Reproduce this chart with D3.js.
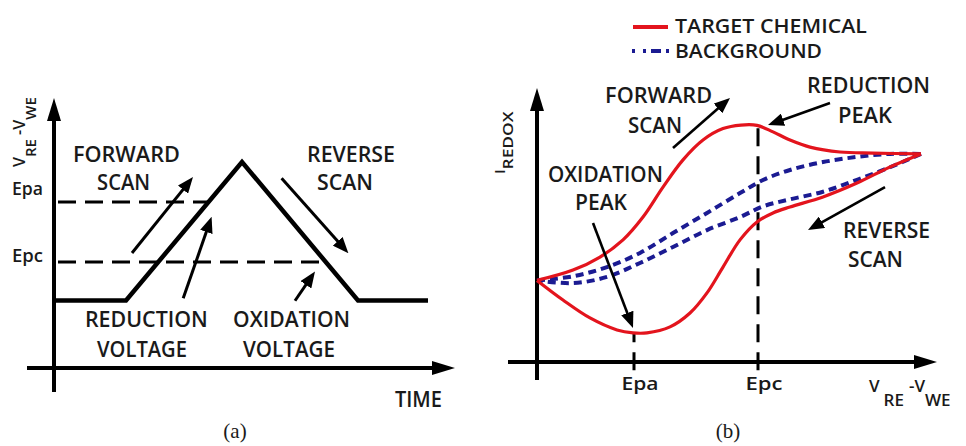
<!DOCTYPE html>
<html><head><meta charset="utf-8">
<script src="https://cdn.jsdelivr.net/npm/d3@7"></script>
<style>
body{margin:0;background:#fff;}
svg text{font-family:'Open Sans',sans-serif;fill:#1a1a1a;font-weight:600;}
</style></head>
<body><svg id="c" width="966" height="446"></svg>
<script>
// ---------- Panel (a): applied potential waveform ----------
const waveTime = [0, 18, 47, 76, 93.5];
const waveVolt = [25, 25, 76.3, 25, 25];
const leftTickNames = ["Epa", "Epc"];
const leftTickValues = [61.5, 39.3];
const leftNotes = [
  {text:"FORWARD", t:18.1, v:76.3, w:107},
  {text:"SCAN", t:17.4, v:65.9, w:53},
  {text:"REVERSE", t:74.25, v:76.3, w:88},
  {text:"SCAN", t:72.75, v:65.9, w:56},
  {text:"REDUCTION", t:23.1, v:15.2, w:123},
  {text:"VOLTAGE", t:22, v:4.1, w:90},
  {text:"OXIDATION", t:59.4, v:15.2, w:117},
  {text:"VOLTAGE", t:58.75, v:4.1, w:92},
  {text:"TIME", t:91.1, v:-14.4, w:47}
];
const leftArrows = [
  {t1:19.5, v1:42.6, t2:34.75, v2:70.7},
  {t1:32.3, v1:25.8, t2:39.4, v2:56.0},
  {t1:56.9, v1:70.3, t2:73.6, v2:42.5},
  {t1:60.25, v1:24.9, t2:65.25, v2:35.7}
];

// ---------- Panel (b): cyclic voltammogram ----------
const targetFwdV = [0, 9, 15.75, 21.5, 26.5, 31.5, 36.5, 41.5, 46.5, 51, 55, 59, 63.25, 68.25, 75.75, 84, 96];
const targetFwdI = [30, 33.8, 38.6, 44.9, 53.3, 64.3, 74.3, 81.6, 85.8, 87.1, 87, 84.6, 81.6, 79, 77.2, 76.8, 76.5];
const targetRevV = [96, 88.25, 80, 71.5, 63.25, 59, 55, 50.75, 46.5, 42.5, 38.25, 33.25, 27.5, 24, 20, 13.25, 6.5, 0];
const targetRevI = [76.5, 71.7, 65.8, 60.7, 57, 54.8, 51.5, 44.9, 34.9, 25.4, 18, 12.9, 10.7, 10.7, 11.8, 16.2, 22.8, 30];
const bgFwdV = [0, 9, 17.5, 25.75, 34, 42.5, 50.75, 56.5, 63.25, 71.5, 80, 88.25, 96];
const bgFwdI = [30, 31.5, 34.9, 40.1, 47.4, 54.8, 62.1, 66.9, 70.6, 73.5, 75.4, 76.5, 76.5];
const bgRevV = [96, 88.25, 80, 71.5, 63.25, 56.5, 50.75, 42.5, 34, 25.75, 17.5, 9, 0];
const bgRevI = [76.5, 71.6, 67, 62.6, 59.8, 57.2, 53.3, 48.5, 42.3, 36.4, 31.3, 29, 30];
const rightTickNames = ["Epa", "Epc"];
const rightTickValues = [24.25, 55.25];
const peakCurrents = [10.7, 87.0];
const legendLabels = ["TARGET CHEMICAL", "BACKGROUND"];
const rightNotes = [
  {text:"FORWARD", x:30.4, y:95.2, w:107},
  {text:"SCAN", x:29.5, y:84.2, w:54},
  {text:"REDUCTION", x:82.9, y:98.9, w:123},
  {text:"PEAK", x:82, y:87.9, w:54},
  {text:"OXIDATION", x:17.1, y:66.2, w:115},
  {text:"PEAK", x:16, y:55.9, w:52},
  {text:"REVERSE", x:87.4, y:45.6, w:87},
  {text:"SCAN", x:84.6, y:34.9, w:55}
];
const rightArrows = [
  {x1:34, y1:78.7, x2:48.25, y2:97.1},
  {x1:73.25, y1:95.2, x2:57.75, y2:87.1},
  {x1:14, y1:51.1, x2:24, y2:12.5},
  {x1:87, y1:64.3, x2:67.75, y2:48.5}
];

const RED = "#e3141d", BLUE = "#1b1b92";
const svg = d3.select("#c");
const defs = svg.append("defs");
function marker(id, len, wid, shorten){
  defs.append("marker").attr("id", id).attr("markerUnits","userSpaceOnUse")
    .attr("markerWidth", len).attr("markerHeight", wid)
    .attr("refX", len - shorten).attr("refY", wid/2).attr("orient","auto")
    .append("path").attr("d", `M0,0L${len},${wid/2}L0,${wid}Z`).attr("fill","#000");
}
marker("axisHead", 23, 14, 10);
marker("noteHead", 16, 13, 8);
function arrow(g, x1, y1, x2, y2, w, id, s){
  const dx = x2 - x1, dy = y2 - y1, L = Math.hypot(dx, dy);
  g.append("line").attr("x1", x1).attr("y1", y1)
    .attr("x2", x2 - dx/L*s).attr("y2", y2 - dy/L*s)
    .attr("stroke","#000").attr("stroke-width", w)
    .attr("marker-end", `url(#${id})`);
}
function fitText(g, text, x, y, w, size){
  return g.append("text").attr("x", x).attr("y", y).attr("text-anchor","middle")
    .attr("font-size", size).attr("textLength", w).attr("lengthAdjust","spacingAndGlyphs").text(text);
}

// ===== Panel (a) =====
const xL = d3.scaleLinear([0, 100], [54, 454]);
const yL = d3.scaleLinear([0, 100], [368, 98]);
const gA = svg.append("g");
arrow(gA, xL(-6.75), yL(0), xL(100.25), yL(0), 4, "axisHead", 10);
arrow(gA, xL(0), yL(-8.9), xL(0), yL(100), 4, "axisHead", 10);
const wave = waveTime.map((t, i) => ({t, v: waveVolt[i]}));
function crossTime(v, seg){ const a = wave[seg], b = wave[seg+1]; return a.t + (v - a.v)/(b.v - a.v)*(b.t - a.t); }
gA.append("line").attr("x1", xL(1)).attr("x2", xL(crossTime(leftTickValues[0], 1)))
  .attr("y1", yL(leftTickValues[0])).attr("y2", yL(leftTickValues[0]))
  .attr("stroke","#000").attr("stroke-width", 3).attr("stroke-dasharray","18,9");
gA.append("line").attr("x1", xL(1)).attr("x2", xL(crossTime(leftTickValues[1], 2)))
  .attr("y1", yL(leftTickValues[1])).attr("y2", yL(leftTickValues[1]))
  .attr("stroke","#000").attr("stroke-width", 3).attr("stroke-dasharray","18,9");
gA.append("path").datum(wave)
  .attr("d", d3.line().x(d => xL(d.t)).y(d => yL(d.v)))
  .attr("fill","none").attr("stroke","#000").attr("stroke-width", 4.5).attr("stroke-linejoin","miter");
const leftDy = [-7, 0];
leftTickNames.forEach((n, i) => {
  gA.append("text").attr("x", xL(0) - 11).attr("y", yL(leftTickValues[i]) + leftDy[i])
    .attr("text-anchor","end").attr("font-size", 18).attr("textLength", 31)
    .attr("lengthAdjust","spacingAndGlyphs").text(n);
});
const yla = gA.append("text").attr("transform", `translate(${25},${167}) rotate(-90)`).attr("font-size", 16);
yla.append("tspan").text("V");
yla.append("tspan").attr("dy", 11).attr("font-size", 15).text("RE");
yla.append("tspan").attr("dy", -11).text(" -V");
yla.append("tspan").attr("dy", 11).attr("font-size", 15).text("WE");
leftNotes.forEach(n => fitText(gA, n.text, xL(n.t), yL(n.v), n.w, 22));
leftArrows.forEach(a => arrow(gA, xL(a.t1), yL(a.v1), xL(a.t2), yL(a.v2), 3, "noteHead", 8));
gA.append("text").attr("x", 235).attr("y", 438).attr("text-anchor","middle")
  .style("font-family","'Liberation Serif',serif").style("font-weight","normal").attr("font-size", 21).text("(a)");

// ===== Panel (b) =====
const xR = d3.scaleLinear([0, 100], [537, 937]);
const yR = d3.scaleLinear([0, 100], [362, 90]);
const gB = svg.append("g");
rightTickValues.forEach((v, i) => {
  gB.append("line").attr("x1", xR(v)).attr("x2", xR(v))
    .attr("y1", yR(-3)).attr("y2", yR(peakCurrents[i]))
    .attr("stroke","#000").attr("stroke-width", 3).attr("stroke-dasharray","18,10");
});
arrow(gB, xR(-7.25), yR(0), xR(100), yR(0), 4, "axisHead", 10);
arrow(gB, xR(0), yR(-6.6), xR(0), yR(100.7), 4, "axisHead", 10);
rightTickNames.forEach((n, i) => {
  gB.append("text").attr("x", xR(rightTickValues[i]) + 6).attr("y", 390).attr("text-anchor","middle")
    .attr("font-size", 18).attr("textLength", 37).attr("lengthAdjust","spacingAndGlyphs").text(n);
});
const cv = d3.line().x(d => xR(d[0])).y(d => yR(d[1])).curve(d3.curveCatmullRom.alpha(0.5));
const zipP = (a, b) => a.map((v, i) => [v, b[i]]);
gB.append("path").attr("d", cv(zipP(bgFwdV, bgFwdI))).attr("fill","none")
  .attr("stroke", BLUE).attr("stroke-width", 4).attr("stroke-dasharray","8,5");
gB.append("path").attr("d", cv(zipP(bgRevV, bgRevI))).attr("fill","none")
  .attr("stroke", BLUE).attr("stroke-width", 4).attr("stroke-dasharray","8,5");
gB.append("path").attr("d", cv(zipP(targetFwdV, targetFwdI))).attr("fill","none")
  .attr("stroke", RED).attr("stroke-width", 3.2);
gB.append("path").attr("d", cv(zipP(targetRevV, targetRevI))).attr("fill","none")
  .attr("stroke", RED).attr("stroke-width", 3.2);
const xlb = gB.append("text").attr("x", 869).attr("y", 392).attr("font-size", 17);
xlb.append("tspan").text("V");
xlb.append("tspan").attr("dx", 4).attr("dy", 14).attr("font-size", 17).text("RE");
xlb.append("tspan").attr("dx", 5).attr("dy", -14).text("-V");
xlb.append("tspan").attr("dy", 14).attr("font-size", 17).text("WE");
const ylb = gB.append("text").attr("transform", `translate(${505},${174}) rotate(-90)`).attr("font-size", 15);
ylb.append("tspan").text("I");
ylb.append("tspan").attr("dy", 8).attr("font-size", 14).attr("textLength", 58)
  .attr("lengthAdjust","spacingAndGlyphs").text("REDOX");
rightNotes.forEach(n => fitText(gB, n.text, xR(n.x), yR(n.y), n.w, 22));
rightArrows.forEach(a => arrow(gB, xR(a.x1), yR(a.y1), xR(a.x2), yR(a.y2), 2.6, "noteHead", 8));
gB.append("text").attr("x", 728).attr("y", 438).attr("text-anchor","middle")
  .style("font-family","'Liberation Serif',serif").style("font-weight","normal").attr("font-size", 21).text("(b)");
// legend
const lg = svg.append("g");
lg.append("line").attr("x1", 633).attr("x2", 668).attr("y1", 27).attr("y2", 27)
  .attr("stroke", RED).attr("stroke-width", 4);
lg.append("line").attr("x1", 632).attr("x2", 669).attr("y1", 51).attr("y2", 51)
  .attr("stroke", BLUE).attr("stroke-width", 4).attr("stroke-dasharray","3,8,3,5,10,5,3");
lg.append("text").attr("x", 675).attr("y", 33).attr("font-size", 20).attr("textLength", 192)
  .attr("lengthAdjust","spacingAndGlyphs").text(legendLabels[0]);
lg.append("text").attr("x", 675).attr("y", 58).attr("font-size", 20).attr("textLength", 147)
  .attr("lengthAdjust","spacingAndGlyphs").text(legendLabels[1]);
</script>
</body></html>
